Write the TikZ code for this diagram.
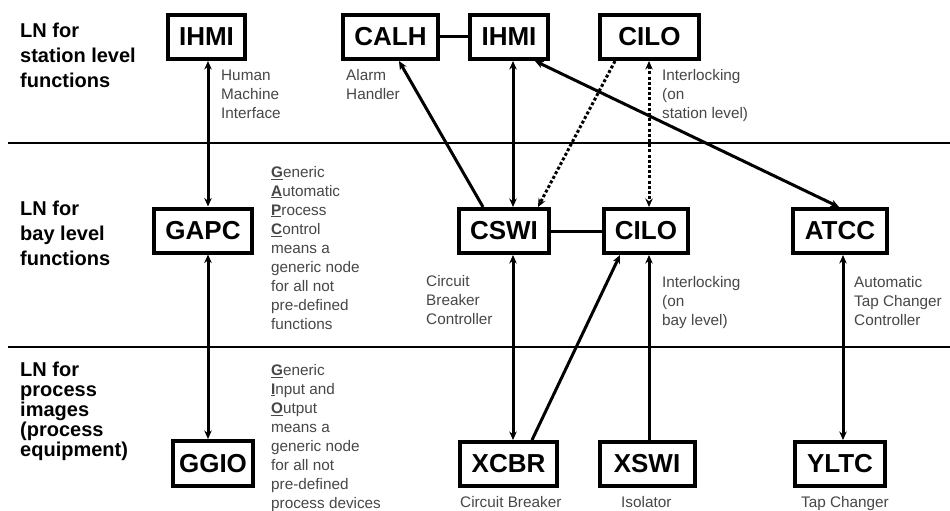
\documentclass[tikz,border=0pt]{standalone}
\usepackage{fontspec}
\setmainfont{Liberation Sans}
\usetikzlibrary{arrows.meta}

\begin{document}
\begin{tikzpicture}[x=1pt,y=-1pt,
  >={Stealth[length=8.5pt,width=7.5pt]},
  lnbox/.style={draw, line width=4pt, fill=white, inner sep=0pt,
    minimum height=44pt, font=\bfseries\fontsize{26}{30}\selectfont},
  note/.style={anchor=north west, align=left, inner sep=0pt, text=black!72,
    font=\fontsize{15.3}{19}\selectfont},
  level/.style={anchor=north west, align=left, inner sep=0pt,
    font=\bfseries\fontsize{20}{25}\selectfont},
  link/.style={line width=3pt},
  dotline/.style={line width=3pt, dash pattern=on 3pt off 2.2pt},
  divider/.style={line width=1.3pt}
]
% canvas
\fill[white] (0,0) rectangle (950,511);
\useasboundingbox (0,0) rectangle (950,511);

% level dividers
\draw[divider] (8,143) -- (950,143);
\draw[divider] (8,347) -- (950,347);

% level titles
\node[level] (lvStation) at (20,23) {LN for\\station level\\functions};
\node[level] (lvBay) at (20,201) {LN for\\bay level\\functions};
\node[level, font=\bfseries\fontsize{20}{20}\selectfont] (lvProcess) at (20,362)
  {LN for\\process\\images\\(process\\equipment)};

% logical nodes
\node[lnbox, minimum width=77pt] (ihmiA) at (206.5,37) {IHMI};
\node[lnbox, minimum width=95pt] (calh)  at (390.5,37) {CALH};
\node[lnbox, minimum width=78pt] (ihmiB) at (509,37)   {IHMI};
\node[lnbox, minimum width=99pt] (ciloA) at (649.5,37) {CILO};

\node[lnbox, minimum width=98pt] (gapc)  at (203,230.5) {GAPC};
\node[lnbox, minimum width=90pt] (cswi)  at (504,231)   {CSWI};
\node[lnbox, minimum width=84pt] (ciloB) at (646,231)   {CILO};
\node[lnbox, minimum width=94pt] (atcc)  at (840,231)   {ATCC};

\node[lnbox, minimum width=80pt, minimum height=45pt] (ggio) at (213,463.5) {GGIO};
\node[lnbox, minimum width=97pt] (xcbr)  at (508.5,464) {XCBR};
\node[lnbox, minimum width=95pt] (xswi)  at (647,464)   {XSWI};
\node[lnbox, minimum width=90pt] (yltc)  at (840,464)   {YLTC};

% connections
\draw[link,<->] ([xshift=1.5pt]ihmiA.south) -- ([xshift=5pt]gapc.north);
\draw[link,<->] ([xshift=5pt]gapc.south) -- ([xshift=-5pt]ggio.north);
\draw[link] (calh.east) -- (ihmiB.west);
\draw[link,->] ([xshift=-21pt]cswi.north) -- ([xshift=8.5pt]calh.south);
\draw[link,<->] ([xshift=4pt]ihmiB.south) -- ([xshift=9pt]cswi.north);
\draw[dotline,->] ([xshift=-34.5pt]ciloA.south) -- ([xshift=34pt]cswi.north);
\draw[dotline,<->] ([xshift=-0.5pt]ciloA.south) -- ([xshift=3pt]ciloB.north);
\draw[link,<->] ([xshift=26pt]ihmiB.south) -- ([xshift=-1pt]atcc.north);
\draw[link] (cswi.east) -- (ciloB.west);
\draw[link,<->] ([xshift=9pt]cswi.south) -- ([xshift=4.5pt]xcbr.north);
\draw[link,->] ([xshift=23.5pt]xcbr.north) -- ([xshift=-26pt]ciloB.south);
\draw[link,->] ([xshift=2pt]xswi.north) -- ([xshift=3pt]ciloB.south);
\draw[link,<->] ([xshift=3pt]atcc.south) -- ([xshift=3pt]yltc.north);

% descriptions
\node[note] (nIhmi)  at (221,70)  {Human\\Machine\\Interface};
\node[note] (nCalh)  at (346,69)  {Alarm\\Handler};
\node[note] (nCiloA) at (662,69)  {Interlocking\\(on\\station level)};
\node[note] (nGapc)  at (271,166) {\underline{\textbf{G}}eneric\\\underline{\textbf{A}}utomatic\\
  \underline{\textbf{P}}rocess\\\underline{\textbf{C}}ontrol\\means a\\generic node\\
  for all not\\pre-defined\\functions};
\node[note] (nCswi)  at (426,275) {Circuit\\Breaker\\Controller};
\node[note] (nCiloB) at (662,276) {Interlocking\\(on\\bay level)};
\node[note] (nAtcc)  at (854,276) {Automatic\\Tap Changer\\Controller};
\node[note] (nGgio)  at (271,364) {\underline{\textbf{G}}eneric\\\underline{\textbf{I}}nput and\\
  \underline{\textbf{O}}utput\\means a\\generic node\\for all not\\pre-defined\\process devices};
\node[note] (nXcbr)  at (460,496) {Circuit Breaker};
\node[note] (nXswi)  at (621,496) {Isolator};
\node[note] (nYltc)  at (801,496) {Tap Changer};
\end{tikzpicture}
\end{document}
